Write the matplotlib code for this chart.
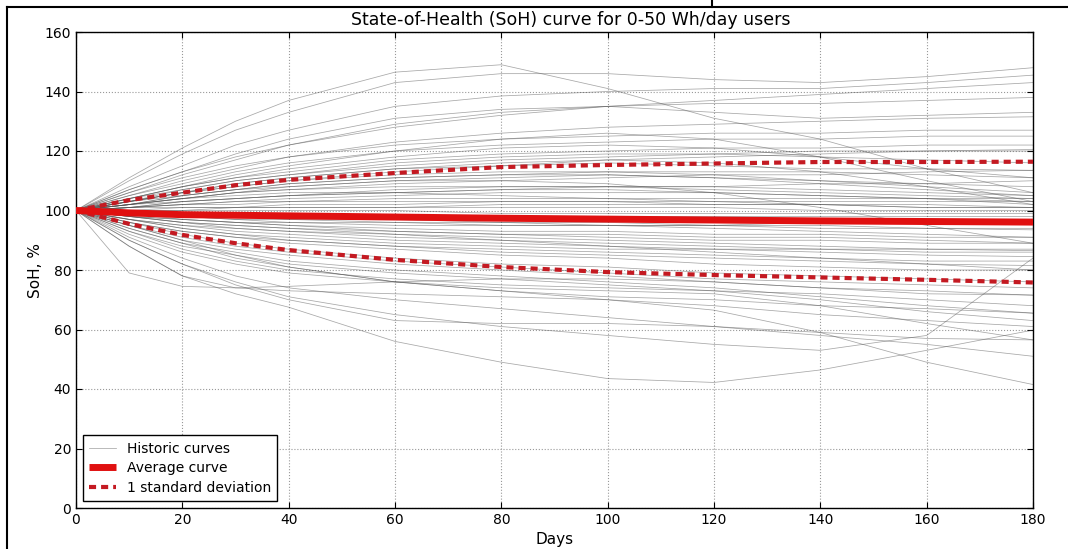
import matplotlib
matplotlib.use("Agg")
import matplotlib.pyplot as plt
from matplotlib.lines import Line2D

plt.rcParams['font.family'] = ['DejaVu Sans']

days = [0, 10, 20, 30, 40, 60, 80, 100, 120, 140, 160, 180]

historic = [
    [100, 111, 121, 130, 137, 146.5, 149, 141, 131, 124, 114, 106],
    [100, 110, 119, 127, 133, 143, 146, 146, 144, 143, 145, 148],
    [100, 108, 115, 122, 127, 135, 138.5, 140, 141, 141, 143, 145.5],
    [100, 107, 113, 118, 122, 128, 132, 135, 137, 139, 141, 143],
    [100, 106, 112, 117, 122, 129, 133, 135, 136, 136, 137, 138],
    [100, 107, 113, 119, 124, 131, 134, 135, 133, 131, 132, 133],
    [100, 105, 110, 114, 118, 123, 126, 128, 129, 130, 131, 131.5],
    [100, 106, 111, 115, 118, 122, 124, 125, 126, 126, 127, 127],
    [100, 105, 109, 113, 116, 120, 122, 123, 124, 124, 125, 125],
    [100, 104, 108, 111, 113, 117, 119, 120, 121, 121, 122, 122],
    [100, 104, 107, 110, 112, 115, 117, 118, 119, 120, 120, 120],
    [100, 103, 106, 109, 111, 114, 115, 116, 115, 114, 114, 113.5],
    [100, 104, 108, 111, 114, 118, 121, 122, 121, 118, 114, 111],
    [100, 103, 105, 107, 109, 111, 112, 112, 111, 110, 109, 108],
    [100, 103, 106, 108, 110, 112, 113, 113, 112, 110, 108, 106],
    [100, 104, 108, 112, 115, 120, 124, 126, 124, 118, 110, 103],
    [100, 102, 104, 106, 107, 108, 108, 108, 107, 106, 105, 104],
    [100, 102, 103, 104, 105, 106, 107, 107, 106, 105, 104, 103],
    [100, 101, 102, 103, 104, 105, 106, 106, 106, 105, 104, 102],
    [100, 102, 104, 105, 106, 106, 105, 104, 103, 102, 102, 101],
    [100, 101, 102, 102, 103, 103, 103, 103, 102, 102, 101, 101],
    [100, 101, 101, 101, 101, 101, 101, 101, 101, 100, 100, 100],
    [100, 100, 100, 100, 100, 100, 99, 99, 99, 99, 99, 99],
    [100, 101, 103, 104, 105, 107, 108, 108, 108, 107, 106, 105],
    [100, 102, 105, 107, 109, 111, 112, 113, 113, 113, 112, 111],
    [100, 103, 106, 108, 110, 113, 115, 117, 118, 119, 120, 120.5],
    [100, 103, 107, 110, 112, 116, 118, 119, 119, 118, 117, 116],
    [100, 99, 98, 97, 97, 96, 96, 95, 95, 95, 94, 94],
    [100, 99, 98, 98, 97, 97, 96, 96, 95, 94, 94, 93.5],
    [100, 98, 97, 96, 95, 94, 93, 93, 92, 92, 91, 91],
    [100, 98, 96, 95, 94, 93, 92, 91, 90, 90, 89, 89],
    [100, 98, 96, 94, 93, 91, 90, 89, 88, 87, 87, 86.5],
    [100, 97, 94, 92, 91, 89, 88, 87, 87, 87, 86, 86],
    [100, 97, 95, 93, 92, 90, 89, 88, 87, 86, 85, 84.5],
    [100, 97, 94, 92, 90, 88, 86, 85, 84, 83, 82, 81.5],
    [100, 96, 93, 91, 89, 87, 85, 84, 82, 81, 80, 80],
    [100, 96, 92, 89, 87, 84, 82, 81, 79, 78, 77, 76],
    [100, 95, 91, 88, 86, 83, 81, 79, 77, 76, 75, 74],
    [100, 95, 90, 87, 85, 82, 80, 78, 76, 74, 73, 71.5],
    [100, 94, 89, 86, 83, 80, 78, 76, 74, 71, 68, 65.5],
    [100, 93, 88, 85, 82, 79, 77, 75, 73, 70, 66, 63],
    [100, 93, 87, 83, 80, 77, 75, 74, 73, 72, 70, 68],
    [100, 92, 86, 82, 79, 76, 74, 73, 72, 68, 62, 56.5],
    [100, 79, 74.5, 74, 74.5, 76, 77, 77, 76, 74, 72, 71.6],
    [100, 88, 78, 74, 73, 72, 71, 70, 68, 65, 63, 61],
    [100, 88, 78, 72, 67.5, 56, 49, 43.5, 42.2, 46.4, 53, 59.8],
    [100, 90, 82, 76, 71, 65, 61, 58, 55, 53, 58, 84],
    [100, 91, 84, 78, 74, 70, 67, 64, 61, 58, 55, 51],
    [100, 94, 89, 84, 81, 76, 73, 70, 66.5, 59, 49, 41.5],
    [100, 90, 82, 75, 70, 63, 62, 62, 61, 59, 57, 56.5],
    [100, 95, 90, 85, 81, 76, 73, 71, 70, 68, 67, 65.5],
    [100, 101, 102, 103, 103, 104, 104, 104, 104, 104, 104, 104],
    [100, 99, 99, 98, 98, 98, 98, 98, 98, 98, 98, 98],
    [100, 99, 98, 97, 96, 96, 95, 95, 95, 96, 96, 97],
    [100, 100, 101, 101, 102, 102, 103, 103, 103, 103, 103, 103],
    [100, 98, 97, 96, 96, 95, 95, 95, 94, 93, 92, 91],
    [100, 99, 97, 96, 95, 93, 92, 92, 91, 91, 90, 89],
    [100, 101, 103, 104, 105, 106, 107, 108, 108, 109, 109, 110],
    [100, 102, 104, 106, 107, 109, 110, 111, 112, 112, 113, 113.5],
    [100, 97, 95, 94, 93, 92, 91, 90, 89, 88, 87, 87],
    [100, 102, 104, 106, 108, 110, 111, 112, 111, 109, 107, 105],
    [100, 96, 93, 91, 90, 88, 87, 86, 85, 84, 83, 83],
    [100, 98, 96, 95, 94, 92, 90, 88, 86, 84, 82, 80],
    [100, 100, 100, 101, 101, 101, 102, 102, 102, 102, 101, 101],
    [100, 99, 99, 99, 98, 98, 97, 97, 97, 96, 96, 96],
    [100, 103, 106, 109, 111, 114, 116, 117, 116, 113, 108, 102],
    [100, 102, 105, 107, 108, 110, 110, 109, 106, 101, 95, 89],
]

average = [100, 99.2, 98.6, 98.4, 98.2, 97.8, 97.4, 97.1, 96.8, 96.5, 96.3, 96.1]
upper_std = [100, 103.5, 106, 108.5, 110.3, 112.6, 114.6, 115.3, 115.8, 116.3, 116.3, 116.4]
lower_std = [100, 95.5, 91.8, 89, 86.7, 83.4, 81, 79.3, 78.3, 77.5, 76.7, 75.8]

title = "State-of-Health (SoH) curve for 0-50 Wh/day users"

fig = plt.figure(figsize=(10.68, 5.49), dpi=100)
ax = fig.add_axes([76/1068, 1 - 508/549, (1033 - 76)/1068, (508 - 32)/549])

for i, curve in enumerate(historic):
    ax.plot(days, curve, color='#505050', lw=0.55, alpha=0.5,
            label='Historic curves' if i == 0 else None, zorder=2)

ax.plot(days, average, color='#e01010', lw=5, solid_capstyle='butt',
        label='Average curve', zorder=4)
ax.plot(days, upper_std, color='#c41a22', lw=3, ls=(0, (1.7, 1.2)),
        label='1 standard deviation', zorder=3)
ax.plot(days, lower_std, color='#c41a22', lw=3, ls=(0, (1.7, 1.2)), zorder=3)

ax.set_xlim(0, 180)
ax.set_ylim(0, 160)
ax.set_xticks(range(0, 181, 20))
ax.set_yticks(range(0, 161, 20))
ax.grid(True, ls=':', color='#999999', lw=0.8)
ax.tick_params(direction='in', top=True, right=True, labelsize=10, length=4)
for s in ax.spines.values():
    s.set_linewidth(1.0)
    s.set_color('black')

ax.set_xlabel('Days', fontsize=11, labelpad=4)
ax.set_ylabel('SoH, %', fontsize=11, labelpad=1)
fig.text(571/1068, 1 - 20/549, title, ha='center', va='center', fontsize=12.5)

leg = ax.legend(loc='lower left', fontsize=10, fancybox=False, framealpha=1,
                edgecolor='black', handlelength=1.9, borderpad=0.45,
                labelspacing=0.4, bbox_to_anchor=(0.0, 0.0))
leg.get_frame().set_linewidth(1.0)

# surrounding frame lines of the original document
fig.add_artist(Line2D([7/1068, 1], [1 - 7/549, 1 - 7/549], transform=fig.transFigure, color='black', lw=1.5))
fig.add_artist(Line2D([7/1068, 7/1068], [0, 1 - 7/549], transform=fig.transFigure, color='black', lw=1.5))
fig.add_artist(Line2D([712/1068, 712/1068], [1 - 7/549, 1], transform=fig.transFigure, color='black', lw=1.5))

fig.savefig('out.png', dpi=100)
